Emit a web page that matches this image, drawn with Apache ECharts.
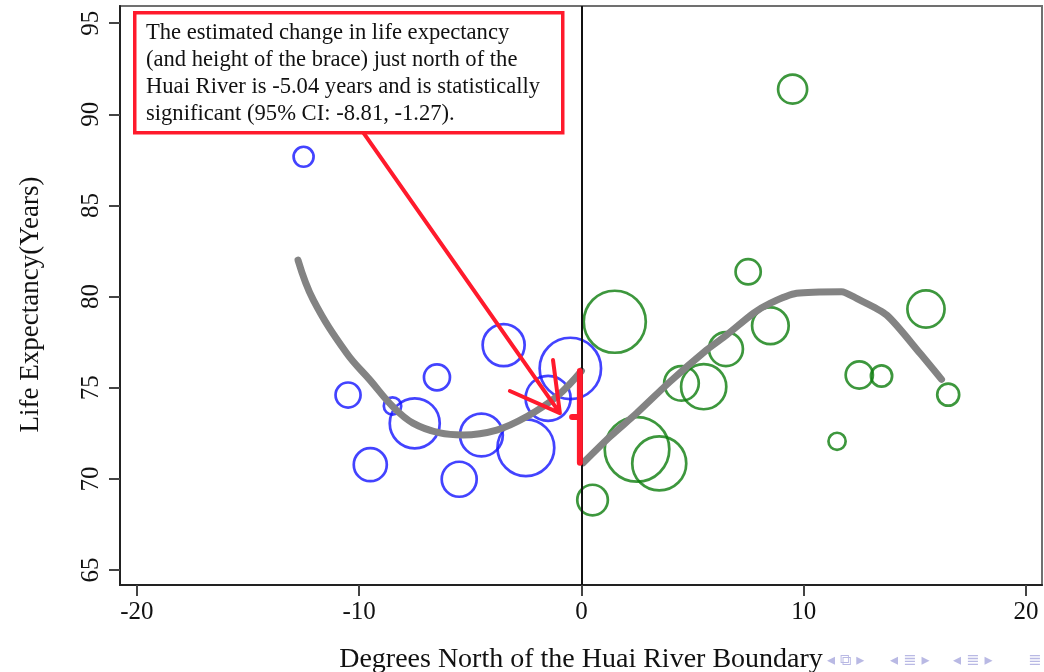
<!DOCTYPE html>
<html>
<head>
<meta charset="utf-8">
<script src="https://cdn.jsdelivr.net/npm/echarts@6/dist/echarts.min.js"></script>
<style>
  html, body { margin: 0; padding: 0; background: #fff; }
  #chart { width: 1044px; height: 672px; }
</style>
</head>
<body>
<div id="chart"></div>
<script>
// Binned cities south of the Huai River (degrees north, life expectancy, population weight)
const southX = [-12.5, -10.5, -9.5, -8.5, -7.5, -6.5, -5.5, -4.5, -3.5, -2.5, -1.5, -0.5];
const southY = [87.67, 74.6, 70.78, 74.0, 73.05, 75.57, 69.98, 72.41, 77.34, 71.71, 74.42, 76.06];
const southW = [11.1, 17.4, 30.3, 8.4, 69.4, 18.8, 34, 50.9, 49, 89.6, 56.3, 104.7];

// Binned cities north of the river
const northX = [0.5, 1.5, 2.5, 3.5, 4.5, 5.5, 6.5, 7.5, 8.5, 9.5, 11.5, 12.5, 13.5, 15.5, 16.5];
const northY = [68.84, 78.62, 71.62, 70.85, 75.24, 75.06, 77.12, 81.36, 78.40, 91.38, 72.06, 75.70, 75.64, 79.32, 74.62];
const northW = [26, 106.8, 115.9, 81, 33.3, 56.7, 32.1, 17.6, 37.2, 23.4, 8.2, 20.6, 12.5, 38.4, 13.4];

// Fitted curves on each side of the boundary
const fitSouthX = [-12.75, -12.06, -10.56, -9.51, -8.48, -7.58, -6.37, -5.33, -3.81, -2.47, -1.12, 0];
const fitSouthY = [82.0, 79.81, 76.89, 75.42, 73.96, 73.06, 72.52, 72.41, 72.68, 73.41, 74.51, 75.92];
const fitNorthX = [0.08, 1.28, 2.48, 3.98, 5.63, 6.53, 7.73, 8.48, 9.68, 11.70, 12.38, 13.73, 15.23, 16.20];
const fitNorthY = [70.88, 72.31, 73.60, 75.33, 77.07, 77.89, 79.08, 79.63, 80.18, 80.27, 79.90, 78.99, 76.89, 75.46];

// Discontinuity at the river
const jumpEstimate = -5.04;
const ciLow = -8.81;
const ciHigh = -1.27;

// Axis ticks
const xTicks = [-20, -10, 0, 10, 20];
const yTicks = [65, 70, 75, 80, 85, 90, 95];

// Arrow from the note to the brace (x, y in data units)
const arrowShaft = [[-10.05, 89.41], [-0.97, 73.61]];
const arrowHead = [[-1.28, 76.52], [-0.97, 73.61], [-3.22, 74.82]];

const noteText = [
  'The estimated change in life expectancy',
  '(and height of the brace) just north of the',
  'Huai River is ' + jumpEstimate.toFixed(2) + ' years and is statistically',
  'significant (95% CI: ' + ciLow.toFixed(2) + ', ' + ciHigh.toFixed(2) + ').'
].join('\n');

const serif = '"Liberation Serif", "DejaVu Serif", serif';

const zip = (xs, ys) => xs.map((x, i) => [x, ys[i]]);
const bubbles = (xs, ys, ws) => xs.map((x, i) => [x, ys[i], ws[i]]);
const sizeOf = v => 6 * Math.sqrt(v[2]);

// Brace: vertical bar spanning the jump, with a small nub at its middle
const braceX = -0.07;
const braceTop = fitSouthY[fitSouthY.length - 1];
const braceBottom = braceTop + jumpEstimate;
const braceMid = (braceTop + braceBottom) / 2;
const braceData = [[braceX, braceTop], [braceX, braceBottom], null, [braceX - 0.35, braceMid], [braceX, braceMid]];

const navFont = '16px "DejaVu Sans"';
const navColor = '#b9b9e4';

const chart = echarts.init(document.getElementById('chart'), null, { renderer: 'canvas' });

chart.setOption({
  animation: false,
  backgroundColor: '#ffffff',
  grid: {
    left: 120, right: 2, top: 6, bottom: 87,
    outerBoundsMode: 'none',
    show: true, borderColor: '#707070', borderWidth: 2, backgroundColor: '#ffffff'
  },
  xAxis: {
    type: 'value',
    min: -20.76, max: 20.72,
    name: 'Degrees North of the Huai River Boundary',
    nameLocation: 'middle',
    nameGap: 61,
    nameTextStyle: { fontFamily: serif, fontSize: 28, color: '#111' },
    axisLine: { show: true, onZero: false, lineStyle: { color: '#222', width: 2 } },
    axisTick: { show: true, length: 11, customValues: xTicks, lineStyle: { color: '#444', width: 2 } },
    axisLabel: { customValues: xTicks, fontFamily: serif, fontSize: 25, color: '#111', margin: 15 },
    splitLine: { show: false }
  },
  yAxis: {
    type: 'value',
    min: 64.18, max: 95.94,
    name: 'Life Expectancy(Years)',
    nameLocation: 'middle',
    nameGap: 76,
    nameRotate: 90,
    nameTextStyle: { fontFamily: serif, fontSize: 27, color: '#111', padding: [0, 18, 0, 0] },
    axisLine: { show: true, onZero: false, lineStyle: { color: '#222', width: 2 } },
    axisTick: { show: true, length: 11, customValues: yTicks, lineStyle: { color: '#444', width: 2 } },
    axisLabel: { customValues: yTicks, rotate: 90, fontFamily: serif, fontSize: 25, color: '#111', margin: 16 },
    splitLine: { show: false }
  },
  series: [
    {
      name: 'South', type: 'scatter', symbol: 'circle',
      data: bubbles(southX, southY, southW),
      symbolSize: sizeOf,
      itemStyle: { color: 'rgba(0,0,0,0)', borderColor: '#1414ff', borderWidth: 2.7 },
      z: 2,
      markLine: {
        silent: true, symbol: 'none', label: { show: false },
        lineStyle: { color: '#111', width: 2, type: 'solid' },
        data: [{ xAxis: 0 }]
      }
    },
    {
      name: 'North', type: 'scatter', symbol: 'circle',
      data: bubbles(northX, northY, northW),
      symbolSize: sizeOf,
      itemStyle: { color: 'rgba(0,0,0,0)', borderColor: '#0c7d0c', borderWidth: 2.7 },
      z: 2
    },
    {
      name: 'Fit south', type: 'line', data: zip(fitSouthX, fitSouthY),
      smooth: 0.4, showSymbol: false, symbol: 'none',
      lineStyle: { color: '#838383', width: 7, cap: 'round', join: 'round' }, z: 3
    },
    {
      name: 'Fit north', type: 'line', data: zip(fitNorthX, fitNorthY),
      smooth: 0.25, showSymbol: false, symbol: 'none',
      lineStyle: { color: '#838383', width: 7, cap: 'round', join: 'round' }, z: 3
    },
    {
      name: 'Brace', type: 'line', data: braceData,
      showSymbol: false, symbol: 'none', connectNulls: false,
      lineStyle: { color: '#ff1a2c', width: 6, cap: 'round', join: 'round' }, z: 5
    },
    {
      name: 'Arrow', type: 'line', data: arrowShaft.concat([null], arrowHead),
      showSymbol: false, symbol: 'none', connectNulls: false,
      lineStyle: { color: '#ff1a2c', width: 4, cap: 'round', join: 'round' }, z: 5
    }
  ],
  graphic: [
    {
      type: 'rect', left: 133, top: 11, z: 10,
      shape: { width: 428, height: 120 },
      style: { fill: '#ffffff', stroke: '#ff1a2c', lineWidth: 3.5 }
    },
    {
      type: 'text', left: 146, top: 20, z: 11,
      style: { text: noteText, font: '22.6px ' + serif, lineHeight: 27, fill: '#111' }
    },
    { type: 'text', left: 827, top: 653, z: 11, style: { text: '\u25C2 \u29C9 \u25B8', font: navFont, fill: navColor } },
    { type: 'text', left: 890, top: 653, z: 11, style: { text: '\u25C2 \u2263 \u25B8', font: navFont, fill: navColor } },
    { type: 'text', left: 953, top: 653, z: 11, style: { text: '\u25C2 \u2263 \u25B8', font: navFont, fill: navColor } },
    { type: 'text', left: 1028, top: 653, z: 11, style: { text: '\u2263', font: navFont, fill: navColor } }
  ]
});
</script>
</body>
</html>
